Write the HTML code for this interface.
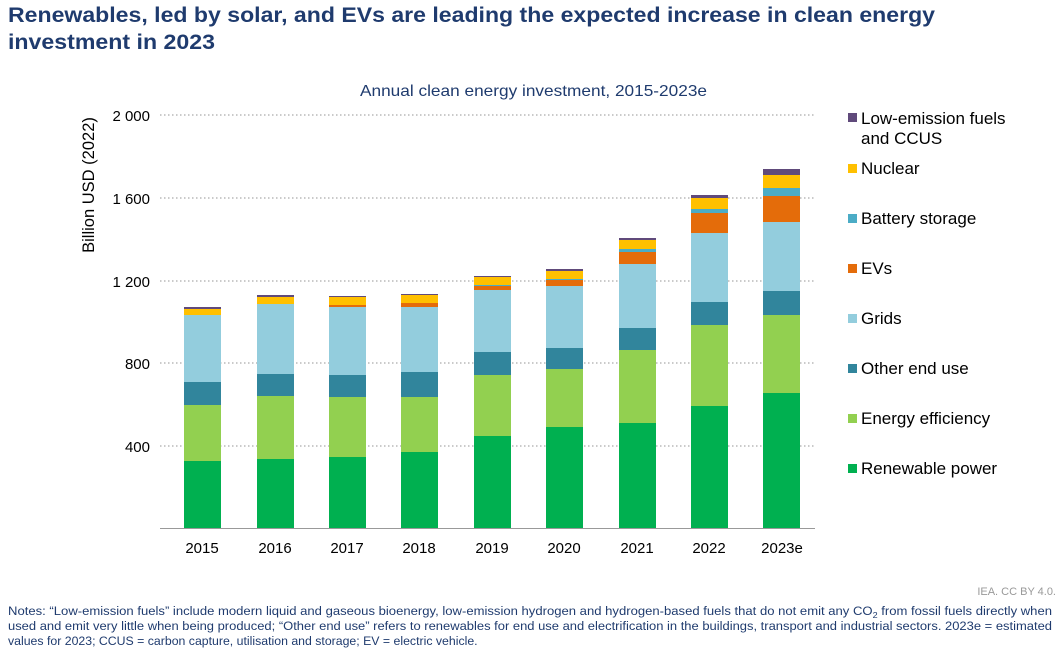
<!DOCTYPE html>
<html><head><meta charset="utf-8"><style>
body{margin:0;width:1062px;height:652px;background:#fff;font-family:"Liberation Sans",sans-serif;overflow:hidden}
</style></head><body>
<svg width="1062" height="652" xmlns="http://www.w3.org/2000/svg" font-family="Liberation Sans, sans-serif">
<text x="8" y="22" font-size="21" font-weight="bold" fill="#1f3b6e" textLength="927" lengthAdjust="spacingAndGlyphs">Renewables, led by solar, and EVs are leading the expected increase in clean energy</text>
<text x="8" y="49" font-size="21" font-weight="bold" fill="#1f3b6e" textLength="207" lengthAdjust="spacingAndGlyphs">investment in 2023</text>
<text x="360" y="96" font-size="16" fill="#1f3b6e" textLength="347" lengthAdjust="spacingAndGlyphs">Annual clean energy investment, 2015-2023e</text>
<g stroke="#aaa" stroke-dasharray="1.5,2.5" stroke-width="1.2">
<line x1="160" x2="815" y1="115" y2="115"/><line x1="160" x2="815" y1="198" y2="198"/>
<line x1="160" x2="815" y1="281" y2="281"/><line x1="160" x2="815" y1="363" y2="363"/>
<line x1="160" x2="815" y1="446" y2="446"/></g>
<g font-size="15" fill="#000" text-anchor="end">
<text x="150" y="121">2 000</text><text x="150" y="204">1 600</text><text x="150" y="287">1 200</text><text x="150" y="369">800</text><text x="150" y="452">400</text></g>
<text transform="translate(94,185) rotate(-90)" font-size="16.5" text-anchor="middle">Billion USD (2022)</text>
<g id="bars"></g>
<line x1="160" x2="815" y1="528.5" y2="528.5" stroke="#999" stroke-width="1"/>
<g font-size="15" text-anchor="middle">
<text x="202" y="553">2015</text><text x="275" y="553">2016</text><text x="347" y="553">2017</text><text x="419" y="553">2018</text><text x="492" y="553">2019</text><text x="564" y="553">2020</text><text x="637" y="553">2021</text><text x="709" y="553">2022</text><text x="782" y="553">2023e</text></g>
<g font-size="17" fill="#000">
<rect x="848" y="113" width="9" height="9" fill="#604a7b"/><text x="861" y="124">Low-emission fuels</text><text x="861" y="144">and CCUS</text>
<rect x="848" y="164" width="9" height="9" fill="#ffc000"/><text x="861" y="174">Nuclear</text>
<rect x="848" y="214" width="9" height="9" fill="#4bacc6"/><text x="861" y="224">Battery storage</text>
<rect x="848" y="264" width="9" height="9" fill="#e46c0a"/><text x="861" y="274">EVs</text>
<rect x="848" y="314" width="9" height="9" fill="#93cddd"/><text x="861" y="324">Grids</text>
<rect x="848" y="364" width="9" height="9" fill="#31859c"/><text x="861" y="374">Other end use</text>
<rect x="848" y="414" width="9" height="9" fill="#92d050"/><text x="861" y="424">Energy efficiency</text>
<rect x="848" y="464" width="9" height="9" fill="#00b050"/><text x="861" y="474">Renewable power</text></g>
<text x="1056" y="595" font-size="11" fill="#999" text-anchor="end">IEA. CC BY 4.0.</text>
<g font-size="12.3" fill="#1f3b6e">
<text x="8" y="615" textLength="1044" lengthAdjust="spacingAndGlyphs">Notes: “Low-emission fuels” include modern liquid and gaseous bioenergy, low-emission hydrogen and hydrogen-based fuels that do not emit any CO<tspan font-size="8.5" dy="3">2</tspan><tspan dy="-3"> from fossil fuels directly when</tspan></text>
<text x="8" y="630" textLength="1044" lengthAdjust="spacingAndGlyphs">used and emit very little when being produced; “Other end use” refers to renewables for end use and electrification in the buildings, transport and industrial sectors. 2023e = estimated</text>
<text x="8" y="645">values for 2023; CCUS = carbon capture, utilisation and storage; EV = electric vehicle.</text></g>
</svg>
<script>
var cols=["#604a7b","#ffc000","#4bacc6","#e46c0a","#93cddd","#31859c","#92d050","#00b050"];
var d=[[184,[307,309,315,315,315,382,405,461]],[257,[295,297,304,304,304,374,396,459]],[329,[296,297,305,305,307,375,397,457]],[401,[294,295,303,303,307,372,397,452]],[474,[276,277,285,286,290,352,375,436]],[546,[269,271,279,280,286,348,369,427]],[619,[238,240,249,252,264,328,350,423]],[691,[195,198,209,213,233,302,325,406]],[763,[169,175,188,196,222,291,315,393]]];
var g=document.getElementById("bars"),s="";
d.forEach(function(b){var t=b[1];for(var i=0;i<8;i++){var bot=i<7?t[i+1]:528.5;var h=bot-t[i];if(h>0)s+='<rect x="'+b[0]+'" y="'+t[i]+'" width="37" height="'+h+'" fill="'+cols[i]+'"/>';}});
g.innerHTML=s;
</script>
</body></html>
